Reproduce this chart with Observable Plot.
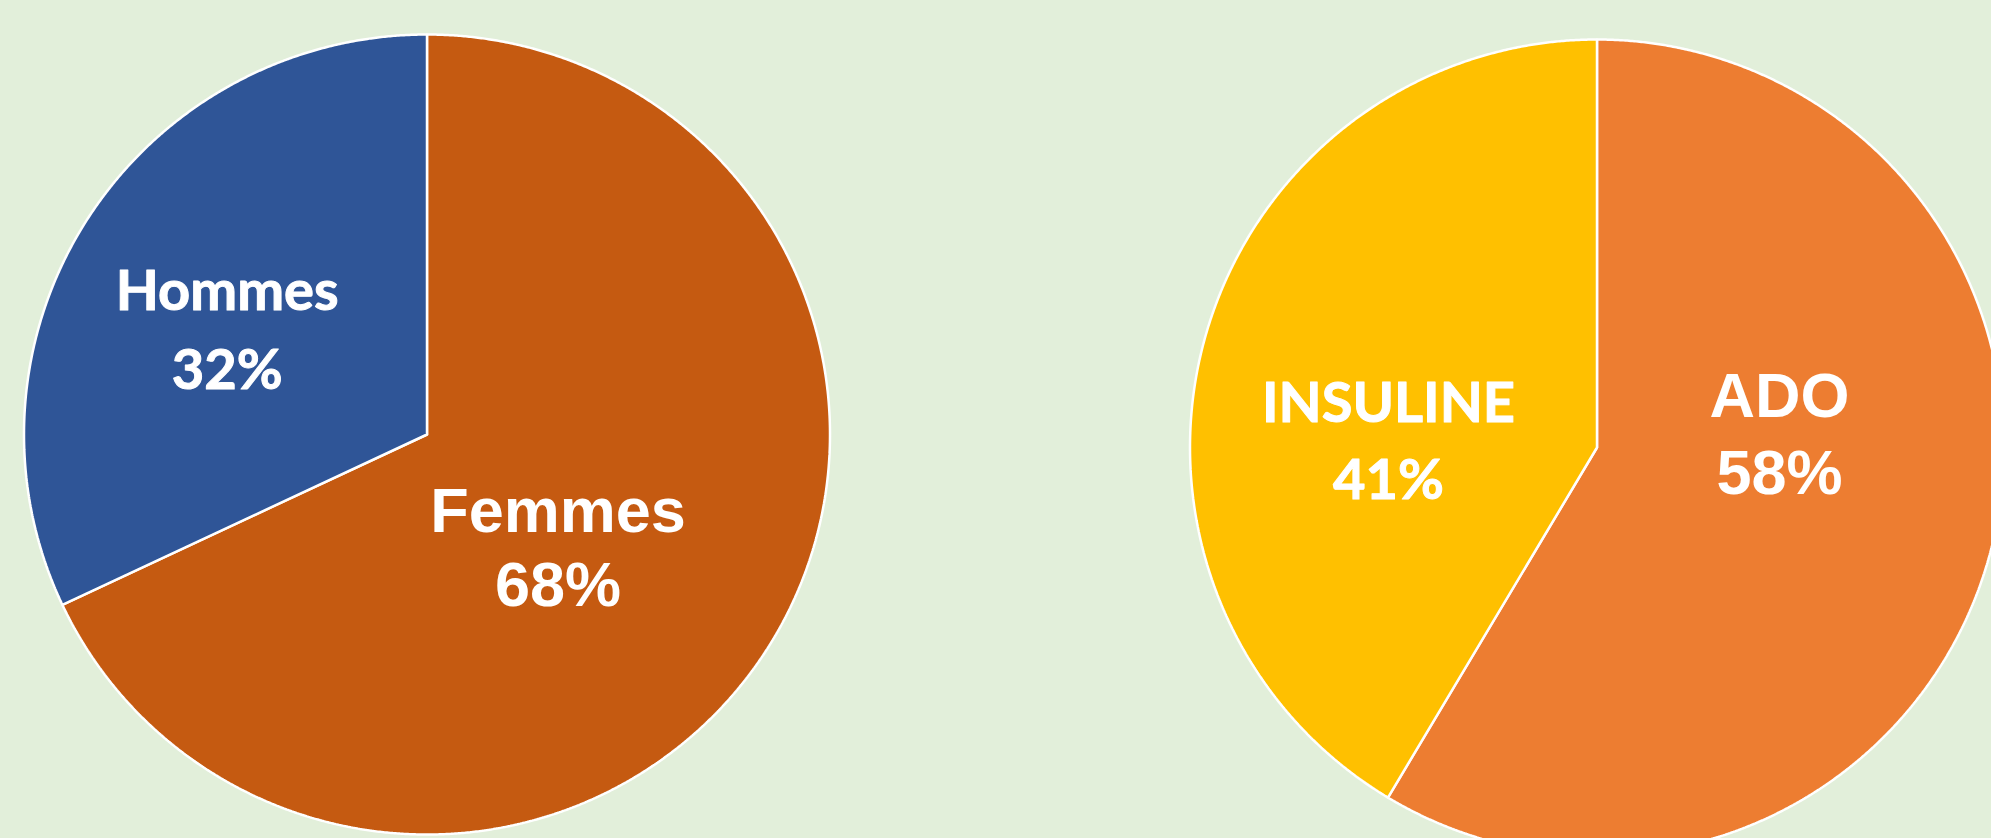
<!DOCTYPE html>
<html><head><meta charset="utf-8">
<script src="https://cdn.jsdelivr.net/npm/d3@7"></script>
<script src="https://cdn.jsdelivr.net/npm/@observablehq/plot@0.6"></script>
<style>html,body{margin:0;padding:0;background:#E2EFDA;overflow:hidden;width:1991px;height:838px}</style>
</head><body><div id="chart"></div>
<script>
// ---- data ----
const sexCategories = ["Femmes", "Hommes"];
const sexValues = [68, 32];
const treatmentCategories = ["ADO", "INSULINE"];
const treatmentValues = [58, 41];
const allCategories = ["Femmes", "Hommes", "ADO", "INSULINE"];
const sliceColors = ["#C55A11", "#2F5597", "#ED7D31", "#FFC000"];

// ---- layout (pixels) ----
const W = 1991, H = 838;
const pies = [
  {cats: sexCategories, vals: sexValues, cx: 426.5, cy: 434, rx: 403, ry: 400},
  {cats: treatmentCategories, vals: treatmentValues, cx: 1596.5, cy: 447, rx: 407, ry: 408}
];
const labelLayout = {
  Hommes:   {x: 226.7, y1: 309.5, y2: 388, font: "Lato"},
  Femmes:   {x: 557.5, y1: 531,   y2: 605, font: "Liberation Sans"},
  INSULINE: {x: 1388,  y1: 421,   y2: 498, font: "Lato"},
  ADO:      {x: 1779,  y1: 416.7, y2: 493, font: "Liberation Sans"}
};
const fontSizes = {"Lato": 56, "Liberation Sans": 63};
const fontStroke = {"Lato": 1, "Liberation Sans": 0};

// ---- build slice outlines from the values ----
const slicePts = [];
const labels = [];
for (const p of pies) {
  const rows = p.cats.map((c, i) => ({cat: c, value: p.vals[i]}));
  const arcs = d3.pie().sort(null).value(d => d.value)(rows);
  for (const a of arcs) {
    const cat = a.data.cat;
    slicePts.push({cat, x: p.cx, y: p.cy});
    const n = Math.ceil((a.endAngle - a.startAngle) / (Math.PI / 720));
    for (let k = 0; k <= n; k++) {
      const t = a.startAngle + (a.endAngle - a.startAngle) * k / n;
      slicePts.push({cat, x: p.cx + p.rx * Math.sin(t), y: p.cy - p.ry * Math.cos(t)});
    }
    slicePts.push({cat, x: p.cx, y: p.cy});
    const L = labelLayout[cat];
    labels.push({cat, pct: a.data.value + "%", ...L});
  }
}

const textMarks = [];
for (const f of Object.keys(fontSizes)) {
  const d = labels.filter(l => l.font === f);
  const opts = {textAnchor: "middle", lineAnchor: "bottom", fill: "white", fontFamily: f, fontWeight: "bold", fontSize: fontSizes[f]};
  if (fontStroke[f]) Object.assign(opts, {stroke: "white", strokeWidth: fontStroke[f]});
  textMarks.push(Plot.text(d, {x: "x", y: "y1", text: "cat", ...opts}));
  textMarks.push(Plot.text(d, {x: "x", y: "y2", text: "pct", ...opts}));
}

const chart = Plot.plot({
  width: W, height: H, margin: 0,
  style: {background: "#E2EFDA", overflow: "hidden"},
  x: {domain: [0, W], range: [0, W], axis: null},
  y: {domain: [0, H], range: [0, H], axis: null},
  color: {domain: allCategories, range: sliceColors},
  marks: [
    Plot.line(slicePts, {x: "x", y: "y", z: "cat", fill: "cat", stroke: "white", strokeWidth: 2.5, strokeLinejoin: "miter", curve: "linear"}),
    ...textMarks
  ]
});
document.getElementById("chart").appendChild(chart);
</script>
</body></html>
